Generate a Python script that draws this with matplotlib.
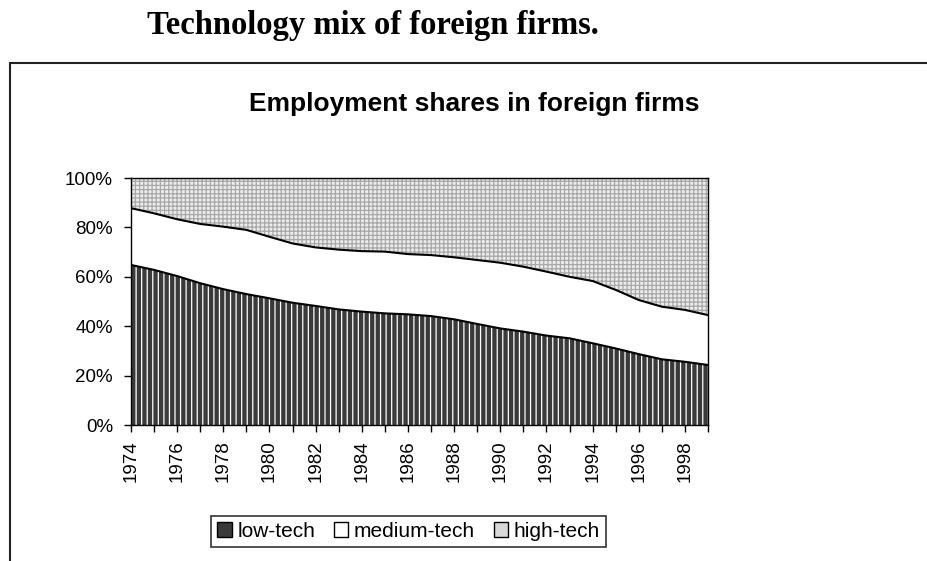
import matplotlib
matplotlib.use('Agg')

import numpy as np
import matplotlib.pyplot as plt
from matplotlib.patches import Patch, Rectangle

years = list(range(1974, 2000))
# cumulative shares (%)
low_tech = [64.8, 62.8, 60.3, 57.4, 55.0, 53.0, 51.3, 49.5, 48.2, 46.8, 45.9, 45.2, 44.8,
            44.1, 42.8, 40.9, 39.1, 37.8, 36.2, 35.1, 33.1, 31.0, 28.7, 26.6, 25.6, 24.3]
low_plus_medium = [87.8, 85.7, 83.3, 81.4, 80.3, 79.0, 76.2, 73.5, 71.9, 71.0, 70.4, 70.2, 69.2,
                   68.8, 67.9, 66.8, 65.7, 64.1, 62.1, 60.0, 58.3, 54.7, 50.6, 47.9, 46.6, 44.5]
series_names = ["low-tech", "medium-tech", "high-tech"]

plt.rcParams['hatch.linewidth'] = 0.9
sans = ['Liberation Sans', 'DejaVu Sans']

fig = plt.figure(figsize=(9.27, 5.61), dpi=100)
ax = fig.add_axes([0.1413, 0.2424, 0.6225, 0.4403])

x = np.array(years)
lo = np.array(low_tech)
mid = np.array(low_plus_medium)

ax.fill_between(x, 0, lo, facecolor='#3a3a3a', edgecolor='white', hatch='|||', linewidth=0)
ax.fill_between(x, lo, mid, facecolor='white', linewidth=0)
ax.fill_between(x, mid, 100, facecolor='#ececec', edgecolor='#a8a8a8', hatch='++++', linewidth=0)
ax.plot(x, lo, color='black', lw=1.5)
ax.plot(x, mid, color='black', lw=1.5)

ax.set_xlim(1974, 1999)
ax.set_ylim(0, 100)
ax.set_xticks(years)
ax.set_xticklabels([str(y) if (y - 1974) % 2 == 0 else '' for y in years],
                   rotation=90, fontsize=13.5, family=sans)
ax.set_yticks([0, 20, 40, 60, 80, 100])
ax.set_yticklabels([f"{v}%" for v in [0, 20, 40, 60, 80, 100]], fontsize=13.5, family=sans)
ax.tick_params(axis='both', direction='out', length=5, width=1, color='black')
ax.tick_params(axis='y', pad=8)
ax.tick_params(axis='x', pad=6)
for s in ax.spines.values():
    s.set_linewidth(1)
    s.set_color('black')

handles = [
    Patch(facecolor='#3a3a3a', edgecolor='black', lw=1),
    Patch(facecolor='white', edgecolor='black', lw=1),
    Patch(facecolor='#d8d8d8', edgecolor='black', lw=1),
]
leg = fig.legend(handles, series_names, loc='center', bbox_to_anchor=(0.4407, 0.0526),
                 ncol=3, frameon=True, fancybox=False, prop={'family': sans, 'size': 15},
                 handlelength=0.7, handleheight=0.7, handletextpad=0.25, columnspacing=0.9,
                 borderpad=0.3, borderaxespad=0)
leg.get_frame().set_edgecolor('black')
leg.get_frame().set_linewidth(1.2)

# outer frame of the chart object
fig.patches.append(Rectangle((10 / 927, -0.1), 1.2, 0.1 + 1 - 63 / 561,
                             transform=fig.transFigure, fill=False,
                             edgecolor='#222222', lw=1.5, clip_on=False))

fig.text(474 / 927, 1 - 104 / 561, "Employment shares in foreign firms", ha='center', va='center',
         fontsize=19, fontweight='bold', family=sans)
fig.text(147 / 927, 1 - 34 / 561, "Technology mix of foreign firms.", ha='left', va='baseline',
         fontsize=23.5, fontweight='bold', family=['Liberation Serif', 'DejaVu Serif'])

fig.savefig("out.png", dpi=100)
plt.close(fig)
